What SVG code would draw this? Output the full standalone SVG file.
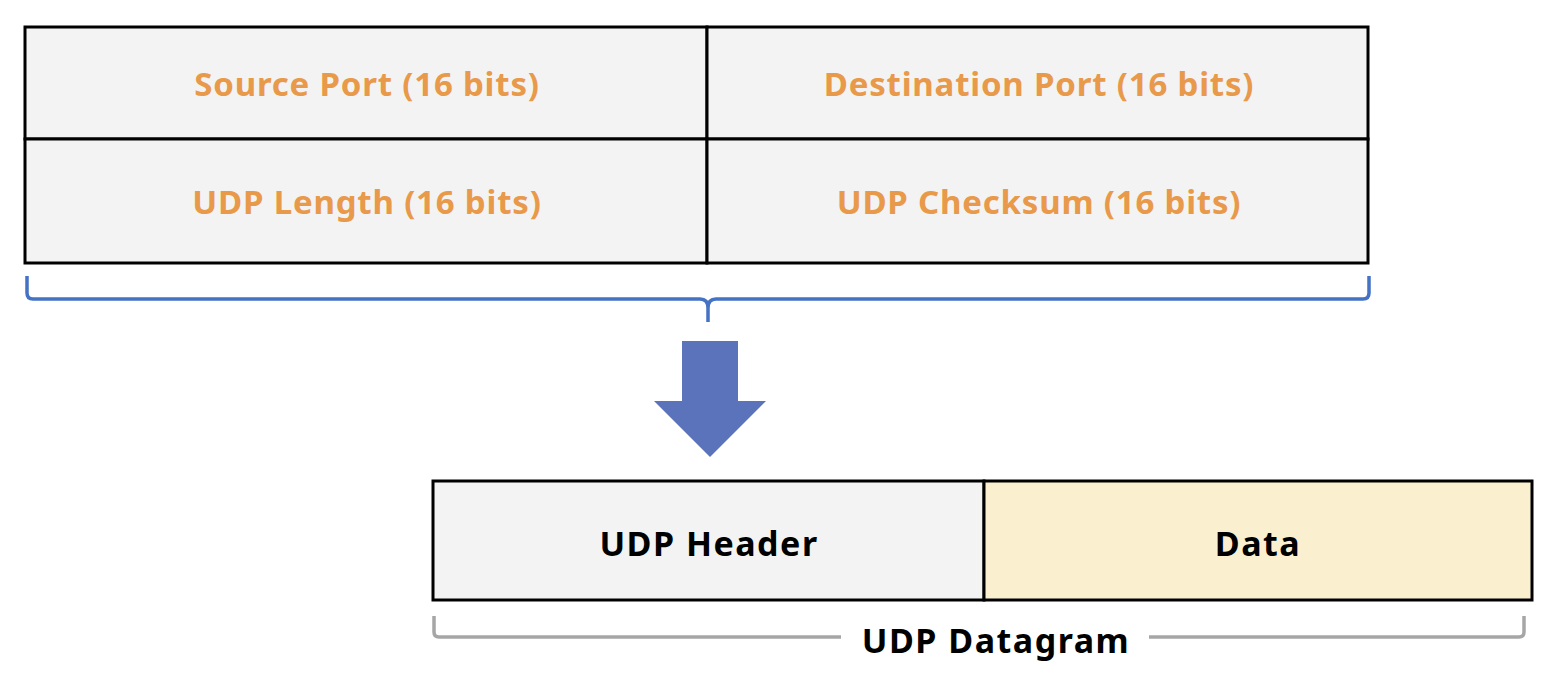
<svg xmlns="http://www.w3.org/2000/svg" width="1558" height="676" viewBox="0 0 1558 676">
<style>
.cell{fill:#F3F3F3;stroke:#000;stroke-width:3}
.lbl{font-family:"Noto Sans",sans-serif;font-weight:bold;font-size:33px;letter-spacing:0.8px;text-anchor:middle;fill:#E8994A}
.blk{font-family:"Noto Sans",sans-serif;font-weight:bold;font-size:34px;letter-spacing:1.5px;text-anchor:middle;fill:#000}
.brace{fill:none;stroke:#4472C4;stroke-width:3.5}
.gbr{fill:none;stroke:#A6A6A6;stroke-width:3.5}
</style>
<g id="source-port"><rect class="cell" x="25" y="27" width="682" height="112"/><text class="lbl" x="367" y="96">Source Port (16 bits)</text></g>
<g id="destination-port"><rect class="cell" x="707" y="27" width="661" height="112"/><text class="lbl" x="1039" y="96">Destination Port (16 bits)</text></g>
<g id="udp-length"><rect class="cell" x="25" y="139" width="682" height="124"/><text class="lbl" x="367" y="214">UDP Length (16 bits)</text></g>
<g id="udp-checksum"><rect class="cell" x="707" y="139" width="661" height="124"/><text class="lbl" x="1039" y="214">UDP Checksum (16 bits)</text></g>
<g id="connectors">
<path class="brace" d="M27 276 V293 Q27 299 33 299 H700 Q708 299 708 308 V322 M708 308 Q708 299 716 299 H1363 Q1369 299 1369 293 V276"/>
<path fill="#5B73BA" d="M682 341 H738 V401 H766 L710 457 L654 401 H682 Z"/>
<path class="gbr" d="M434 616 V632 Q434 637 439 637 H841 M1149 637 H1519 Q1524 637 1524 632 V616"/>
</g>
<g id="udp-header"><rect x="433" y="481" width="551" height="119" fill="#F3F3F3" stroke="#000" stroke-width="3"/><text class="blk" x="709" y="556">UDP Header</text></g>
<g id="data"><rect x="984" y="481" width="548" height="119" fill="#FAF0CF" stroke="#000" stroke-width="3"/><text class="blk" x="1258" y="556">Data</text></g>
<g id="udp-datagram"><text class="blk" x="996" y="653">UDP Datagram</text></g>
</svg>
